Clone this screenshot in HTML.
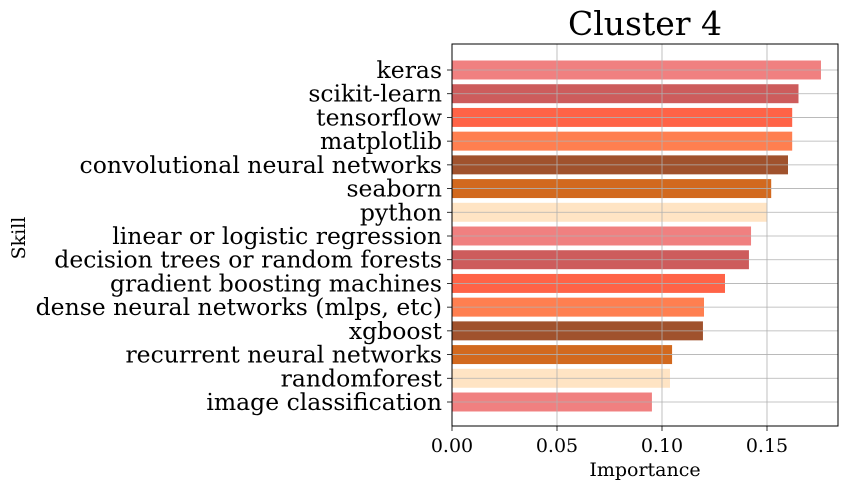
<!DOCTYPE html>
<html><head><meta charset="utf-8"><style>
body{margin:0;background:#fff}
svg text{font-family:"DejaVu Serif","Liberation Serif",serif;fill:#000}
</style></head><body>
<svg id="chart" width="849" height="490" xmlns="http://www.w3.org/2000/svg"></svg>
<script>
const categories=["keras","scikit-learn","tensorflow","matplotlib","convolutional neural networks","seaborn","python","linear or logistic regression","decision trees or random forests","gradient boosting machines","dense neural networks (mlps, etc)","xgboost","recurrent neural networks","randomforest","image classification"];
const values=[0.1757,0.165,0.162,0.162,0.160,0.152,0.150,0.1424,0.1414,0.130,0.120,0.1195,0.1048,0.1038,0.0952];
const xTicks=[0,0.05,0.10,0.15];
const xTickLabels=["0.00","0.05","0.10","0.15"];
const palette=["#F08080","#CD5C5C","#FF6347","#FF7F50","#A0522D","#D2691E","#FFE4C4"];
const svg=document.getElementById('chart');
const NS="http://www.w3.org/2000/svg";
const L=452,R=838,T=44,B=426;
const x=v=>L+v*2100;
const step=(402-70)/14;
const y=i=>70+i*step;
const bh=step*0.8;
function mk(tag,attrs,text){const e=document.createElementNS(NS,tag);for(const k in attrs)e.setAttribute(k,attrs[k]);if(text!==undefined)e.textContent=text;svg.appendChild(e);return e;}
values.forEach((v,i)=>{
  const r=mk('rect',{x:L,y:y(i)-bh/2,width:x(v)-L,height:bh,fill:palette[i%7]});
  
  
  const t=mk('text',{x:L-10,y:y(i)+8,'text-anchor':'end','font-size':23.5},categories[i]);
  
  
  const g=mk('line',{x1:L,x2:R,y1:y(i),y2:y(i),stroke:'#b0b0b0','stroke-width':0.8});
  
  
  mk('line',{x1:L-5,x2:L,y1:y(i),y2:y(i),stroke:'#000','stroke-width':0.8});
});
xTicks.forEach((v,i)=>{
  const g=mk('line',{x1:x(v),x2:x(v),y1:T,y2:B,stroke:'#b0b0b0','stroke-width':0.8});
  
  
  mk('line',{x1:x(v),x2:x(v),y1:B,y2:B+5,stroke:'#000','stroke-width':0.8});
  const t=mk('text',{x:x(v),y:B+26,'text-anchor':'middle','font-size':19},xTickLabels[i]);
  
  
});
const f=mk('rect',{x:L,y:T,width:R-L,height:B-T,fill:'none',stroke:'#000','stroke-width':1});


const ti=mk('text',{x:(L+R)/2,y:35,'text-anchor':'middle','font-size':33},'Cluster 4');


const xt=mk('text',{x:(L+R)/2,y:476,'text-anchor':'middle','font-size':19},'Importance');


const yt=mk('text',{x:25,y:238,'text-anchor':'middle','font-size':19,transform:'rotate(-90 25 238)'},'Skill');


</script>
</body></html>
